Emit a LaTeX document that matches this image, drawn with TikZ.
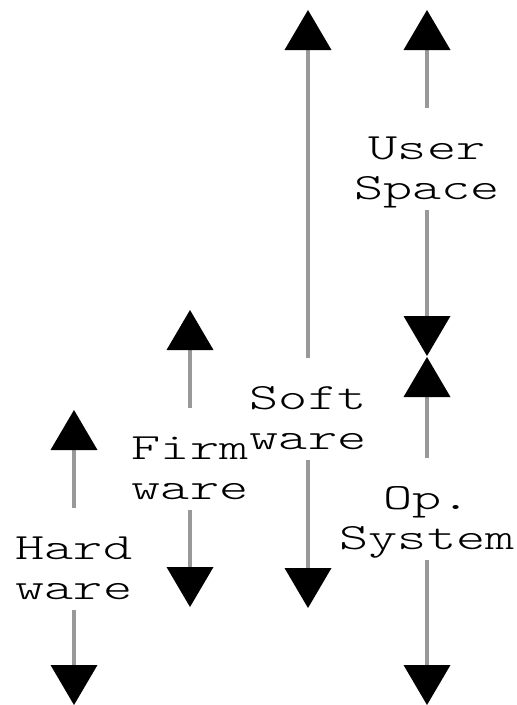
\documentclass[tikz,border=0pt]{standalone}
\usepackage{fontspec}
\usepackage{tikz}
\usetikzlibrary{arrows.meta}
\newfontfamily\lblfont{lmmonolt10-regular.otf}[FakeStretch=1.5]

\begin{document}
\begin{tikzpicture}[x=1pt,y=-1pt,
  lbl/.style={inner sep=0pt,align=center,text height=92pt,text depth=10pt,
    font={\lblfont\fontsize{37}{40}\selectfont}},
  span/.style={draw=black!40,line width=4pt,
    -{Triangle[width=47pt,length=40pt,color=black,line width=0pt]}}]
\useasboundingbox (0,0) rectangle (517,705);
% arrow tips
\coordinate (hwtop) at (74,410);
\coordinate (hwbot) at (74,705);
\coordinate (fwtop) at (190,310);
\coordinate (fwbot) at (190,607);
\coordinate (swtop) at (308,10);
\coordinate (swbot) at (308,608);
\coordinate (ustop) at (427,10);
\coordinate (usbot) at (427,356);
\coordinate (ostop) at (427,357);
\coordinate (osbot) at (427,705);
% labels
\node[lbl,anchor=south] (hw) at (74,610) {Hard\\ware};
\node[lbl,anchor=south] (fw) at (190,510) {Firm\\ware};
\node[lbl,anchor=south] (sw) at (308,460) {Soft\\ware};
\node[lbl,anchor=south] (us) at (427,210) {User\\Space};
\node[lbl,anchor=south] (os) at (427,560) {Op.\\System};
% arrows
\draw[span] (hw.north) -- (hwtop);
\draw[span] (hw.south) -- (hwbot);
\draw[span] (fw.north) -- (fwtop);
\draw[span] (fw.south) -- (fwbot);
\draw[span] (sw.north) -- (swtop);
\draw[span] (sw.south) -- (swbot);
\draw[span] (us.north) -- (ustop);
\draw[span] (us.south) -- (usbot);
\draw[span] (os.north) -- (ostop);
\draw[span] (os.south) -- (osbot);
\end{tikzpicture}
\end{document}
